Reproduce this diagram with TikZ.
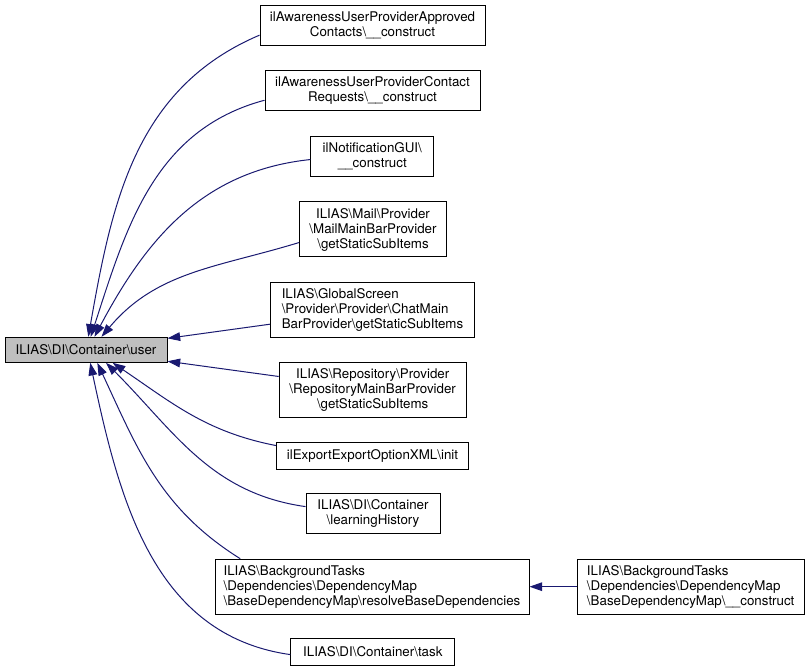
\documentclass[tikz,border=0pt]{standalone}
\usepackage{fontspec}
\setmainfont{TeX Gyre Heros}
\usetikzlibrary{arrows.meta}
\definecolor{edgeblue}{HTML}{191970}
\tikzset{
  fn/.style={draw=black, line width=0.75pt, fill=white, inner sep=1pt,
    font=\fontsize{10}{11.25}\selectfont, align=center},
  fnmain/.style={fn, fill=black!25},
  sz/.style 2 args={minimum width=#1*0.75pt, minimum height=#2*0.75pt},
  call/.style={draw=edgeblue, line width=0.75pt,
    -{Triangle[length=9.5pt,width=6.5pt]}},
}
\begin{document}
\begin{tikzpicture}[x=0.75pt,y=0.75pt]
  \useasboundingbox (0,0) rectangle (809,671);
  \node[fnmain, sz={162}{25}] (user) at (86,321.2) {ILIAS\textbackslash DI\textbackslash Container\textbackslash user};
  \node[fn, sz={225}{40}] (approved) at (372.5,645.7) {ilAwarenessUserProviderApproved\\Contacts\textbackslash \_\_construct};
  \node[fn, sz={215}{40}] (requests) at (372.5,580.2) {ilAwarenessUserProviderContact\\Requests\textbackslash \_\_construct};
  \node[fn, sz={123}{40}] (notify) at (372.3,514.7) {ilNotificationGUI\textbackslash\\\_\_construct};
  \node[fn, sz={147}{55}] (mailbar) at (373,441.5) {ILIAS\textbackslash Mail\textbackslash Provider\\\textbackslash MailMainBarProvider\\\textbackslash getStaticSubItems};
  \node[fn, sz={204}{55}, align=left] (chatbar) at (372.5,361.2) {ILIAS\textbackslash GlobalScreen\\\textbackslash Provider\textbackslash Provider\textbackslash ChatMain\\BarProvider\textbackslash getStaticSubItems};
  \node[fn, sz={187}{55}] (repobar) at (372.7,281.3) {ILIAS\textbackslash Repository\textbackslash Provider\\\textbackslash RepositoryMainBarProvider\\\textbackslash getStaticSubItems};
  \node[fn, sz={192}{27}] (export) at (372.5,215.3) {ilExportExportOptionXML\textbackslash init};
  \node[fn, sz={134}{40}] (history) at (373,157.3) {ILIAS\textbackslash DI\textbackslash Container\\\textbackslash learningHistory};
  \node[fn, sz={314}{55}, align=left] (resolve) at (372,84.3) {ILIAS\textbackslash BackgroundTasks\\\textbackslash Dependencies\textbackslash DependencyMap\\\textbackslash BaseDependencyMap\textbackslash resolveBaseDependencies};
  \node[fn, sz={164}{27}] (task) at (372.8,19.3) {ILIAS\textbackslash DI\textbackslash Container\textbackslash task};
  \node[fn, sz={227}{55}, align=left] (depmap) at (690.7,84.3) {ILIAS\textbackslash BackgroundTasks\\\textbackslash Dependencies\textbackslash DependencyMap\\\textbackslash BaseDependencyMap\textbackslash \_\_construct};

  \draw[call] (approved.185) to[out=203,in=80] (user.80);
  \draw[call] (requests.185) to[out=195,in=72] (user.70);
  \draw[call] (notify.183) to[out=186,in=62] (user.57);
  \draw[call] (mailbar.190) to[out=197,in=50] (user.40);
  \draw[call] (chatbar.188) -- (user.8);
  \draw[call] (repobar.172) -- (user.-8);
  \draw[call] (export.174) to[out=169,in=-34] (user.-26);
  \draw[call] (history.174) to[out=172,in=-45] (user.-33);
  \draw[call] (resolve.168) to[out=148,in=-65] (user.-49);
  \draw[call] (task.182) to[out=172,in=-78] (user.-72);
  \draw[call] (depmap) -- (resolve);
\end{tikzpicture}
\end{document}
